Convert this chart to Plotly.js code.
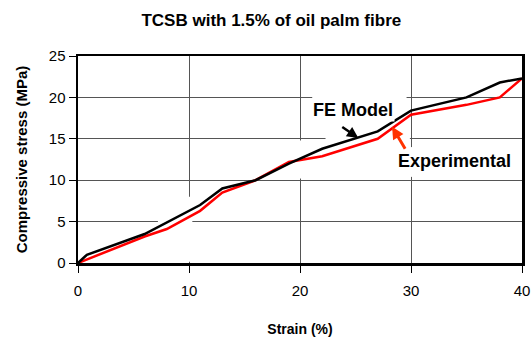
<!DOCTYPE html>
<html>
<head>
<meta charset="utf-8">
<script src="https://cdn.plot.ly/plotly-3.0.1.min.js"></script>
<style>html,body{margin:0;padding:0;background:#fff;}#chart{width:531px;height:339px;}</style>
</head>
<body>
<div id="chart"></div>
<script>
// Data
const strainFE = [0, 0.8, 6, 11, 13, 16, 19, 22, 27, 30, 35, 38, 40];
const stressFE = [0, 1.0, 3.5, 7.0, 9.0, 10.0, 12.0, 13.8, 15.9, 18.4, 20.0, 21.8, 22.3];
const strainExp = [0, 6, 8, 11, 13, 16, 19, 22, 27, 30, 35, 38, 40];
const stressExp = [0, 3.2, 4.1, 6.3, 8.5, 10.0, 12.2, 12.9, 15.0, 17.9, 19.1, 20.0, 22.3];
const xTicks = [0, 10, 20, 30, 40];
const yTicks = [0, 5, 10, 15, 20, 25];

const FONT = '"Liberation Sans", Arial, sans-serif';

const traces = [
  {x: strainExp, y: stressExp, type: 'scatter', mode: 'lines', name: 'Experimental',
   line: {color: '#ff0000', width: 2.5}},
  {x: strainFE, y: stressFE, type: 'scatter', mode: 'lines', name: 'FE Model',
   line: {color: '#000000', width: 2.5}}
];

// white patches where the reference's gridlines are interrupted
function patch(x0, x1, y0, y1) {
  return {type: 'rect', xref: 'x', yref: 'y', x0: x0, x1: x1, y0: y0, y1: y1,
          fillcolor: '#ffffff', line: {width: 0}, layer: 'between'};
}

const layout = {
  width: 531, height: 339,
  margin: {l: 78, r: 9, t: 56, b: 76},
  paper_bgcolor: '#ffffff', plot_bgcolor: '#ffffff',
  showlegend: false,
  font: {family: FONT, color: '#000'},
  title: {text: '<b>TCSB with 1.5% of oil palm fibre</b>', font: {family: FONT, size: 17, color: '#000'},
          x: 0.511, xanchor: 'center', y: 0.94, yanchor: 'middle', yref: 'container'},
  xaxis: {range: [0, 40], tickvals: xTicks, ticks: 'outside', ticklen: 7, tickwidth: 1, tickcolor: '#000',
          showline: true, linecolor: '#000', linewidth: 2.5, mirror: true,
          showgrid: true, gridcolor: '#555', gridwidth: 1, zeroline: false, ticklabelstandoff: 5,
          tickfont: {family: FONT, size: 15, color: '#000'},
          title: {text: '<b>Strain (%)</b>', font: {family: FONT, size: 14, color: '#000'}, standoff: 27}},
  yaxis: {range: [0, 25], tickvals: yTicks, ticks: 'outside', ticklen: 7, tickwidth: 1, tickcolor: '#000',
          showline: true, linecolor: '#000', linewidth: 2.5, mirror: true,
          showgrid: true, gridcolor: '#555', gridwidth: 1, zeroline: false,
          tickfont: {family: FONT, size: 15, color: '#000'},
          title: {text: '<b>Compressive stress (MPa)</b>', font: {family: FONT, size: 15, color: '#000'}, standoff: 18}},
  shapes: [
    patch(21.1, 29.6, 19.5, 20.5),
    patch(22.3, 29.9, 14.6, 15.4),
    patch(19.6, 20.4, 10.2, 14.8),
    patch(29.6, 30.4, 10.4, 14.0),
    patch(7.2, 10.3, 0.15, 8.0)
  ],
  annotations: [
    {x: 24.77, y: 18.5, xref: 'x', yref: 'y', text: '<b>FE Model</b>', showarrow: false,
     font: {family: FONT, size: 18, color: '#000'}, bgcolor: '#ffffff'},
    {x: 33.96, y: 12.27, xref: 'x', yref: 'y', text: '<b>Experimental</b>', showarrow: false,
     font: {family: FONT, size: 18, color: '#000'}, bgcolor: '#ffffff'},
    {x: 25.25, y: 15.1, xref: 'x', yref: 'y', text: ' ', showarrow: true, ax: -19, ay: -13,
     arrowcolor: '#000', arrowwidth: 2.5, arrowhead: 2, arrowsize: 0.9, standoff: 0, startstandoff: 0},
    {x: 28.3, y: 16.45, xref: 'x', yref: 'y', text: ' ', showarrow: true, ax: 16, ay: 27,
     arrowcolor: '#ff3300', arrowwidth: 3, arrowhead: 2, arrowsize: 0.8, standoff: 0, startstandoff: 0}
  ]
};

Plotly.newPlot('chart', traces, layout, {displayModeBar: false, staticPlot: true});
</script>
</body>
</html>
